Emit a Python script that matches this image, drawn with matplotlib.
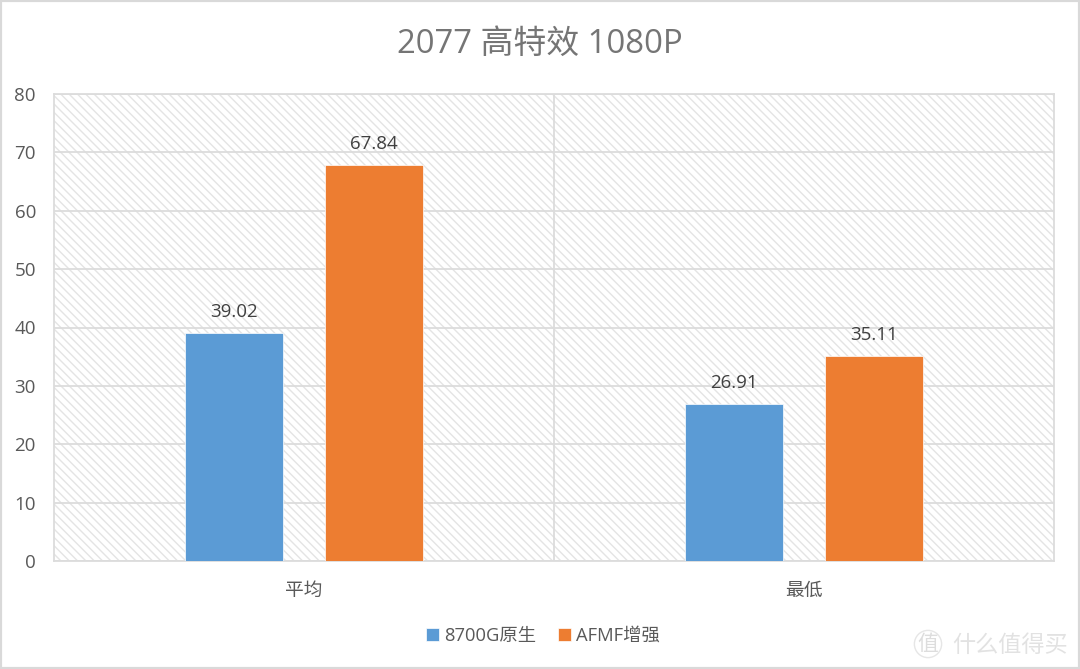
import matplotlib
matplotlib.use("Agg")
import matplotlib.pyplot as plt
from matplotlib.patches import Rectangle

plt.rcParams['font.family'] = ['Open Sans', 'Noto Sans CJK SC', 'DejaVu Sans']
plt.rcParams['hatch.linewidth'] = 1.0
plt.rcParams['hatch.color'] = '#e2e2e2'

W, H = 1080, 669

categories = ['平均', '最低']
series_names = ['8700G原生', 'AFMF增强']
native = [39.02, 26.91]
afmf = [67.84, 35.11]
y_ticks = [0, 10, 20, 30, 40, 50, 60, 70, 80]
title = '2077 高特效 1080P'

BLUE = '#5b9bd5'
ORANGE = '#ed7d31'
GRID = '#dcdcdc'
TEXT = '#595959'

fig = plt.figure(figsize=(W / 100, H / 100), dpi=100, facecolor='white')
ax = fig.add_axes([54 / W, 1 - 561 / H, (1054 - 54) / W, (561 - 94) / H])

# hatched plot background
ax.set_facecolor('white')
ax.add_patch(Rectangle((0, 0), 1, 1, transform=ax.transAxes, facecolor='white',
                       edgecolor='#e4e4e4', hatch='\\\\\\\\', linewidth=0, zorder=0))

ax.set_xlim(-0.5, 1.5)
ax.set_ylim(0, 80)
ax.set_yticks(y_ticks)
ax.set_xticks([0, 1])
ax.set_xticklabels(categories)
ax.tick_params(axis='both', length=0, labelsize=13.5, labelcolor=TEXT)
ax.tick_params(axis='x', pad=15)
ax.tick_params(axis='y', pad=13)

ax.grid(axis='y', color=GRID, linewidth=1.3, zorder=1)
ax.axvline(0.5, color=GRID, linewidth=1.3, zorder=1)
for side in ax.spines.values():
    side.set_color(GRID)
    side.set_linewidth(1.3)

bar_w = 0.196
offset = 0.14
for i, (a, b) in enumerate(zip(native, afmf)):
    bar1 = ax.bar(i - offset, a, bar_w, color=BLUE, edgecolor='white', linewidth=0.5,
                  zorder=3, label=series_names[0] if i == 0 else None)
    bar2 = ax.bar(i + offset, b, bar_w, color=ORANGE, edgecolor='white', linewidth=0.5,
                  zorder=3, label=series_names[1] if i == 0 else None)
    ax.bar_label(bar1, labels=[f'{a:.2f}'], padding=8.5, fontsize=13.5, color='#404040')
    ax.bar_label(bar2, labels=[f'{b:.2f}'], padding=8.5, fontsize=13.5, color='#404040')

fig.text(540 / W, 1 - 44 / H, title, ha='center', va='center', fontsize=23.7, color='#757575')

fig.legend(loc='center', bbox_to_anchor=(543 / W, 1 - 636 / H), ncol=2, frameon=False,
           fontsize=13.2, labelcolor=TEXT, handlelength=0.7, handleheight=0.7,
           handletextpad=0.3, columnspacing=1.2)

# outer chart border
fig.add_artist(Rectangle((0, 0), 1, 1, transform=fig.transFigure, fill=False,
                         edgecolor='#d9d9d9', linewidth=3))

# site watermark, bottom right
fig.text(1010 / W, 1 - 646 / H, '什么值得买', ha='center', va='center', fontsize=16.7, color='#e2e2e2')
fig.text(928 / W, 1 - 644 / H, '值', ha='center', va='center', fontsize=15, color='#dddddd',
         bbox=dict(boxstyle='circle,pad=0.15', facecolor='none', edgecolor='#e6e6e6', linewidth=1))

fig.savefig('out.png', dpi=100)
